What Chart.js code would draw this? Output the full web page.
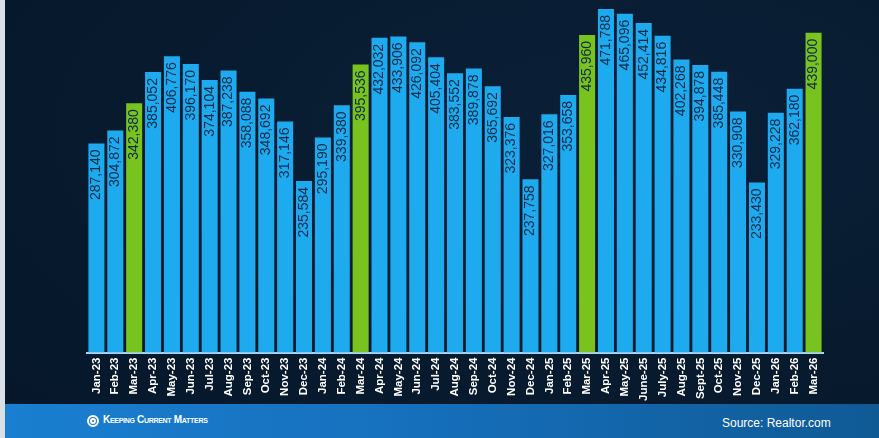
<!DOCTYPE html>
<html>
<head>
<meta charset="utf-8">
<script src="https://cdn.jsdelivr.net/npm/chart.js@4.4.1/dist/chart.umd.min.js"></script>
<style>
  html, body { margin: 0; padding: 0; }
  body {
    width: 879px; height: 438px; overflow: hidden; position: relative;
    background: radial-gradient(ellipse at 70% 30%, #0a2038 0%, #071a2e 60%, #06172a 100%);
    font-family: "Liberation Sans", Arial, sans-serif;
  }
  #edge { position: absolute; left: 0; top: 0; width: 5px; height: 438px; background: #d9e0e6; }
  #wrap { position: absolute; left: 0; top: 0; width: 879px; height: 411px; }
  #footer {
    position: absolute; left: 5px; top: 404px; width: 874px; height: 34px;
    background: linear-gradient(90deg, #1a7fd0 0%, #1670bd 45%, #0f5a95 100%);
    color: #fff;
  }
  #logo { position: absolute; left: 82px; top: 11px; width: 8px; height: 8px;
    border: 2px solid #fff; border-radius: 50%; }
  #logo::after { content: ''; position: absolute; left: 1px; top: 1px; width: 2px; height: 2px;
    border: 2px solid #fff; border-radius: 50%; }
  #brand { position: absolute; left: 98px; top: 10px; font-size: 10px; font-weight: bold;
    letter-spacing: -0.3px; font-variant: small-caps; }
  #source { position: absolute; left: 717px; top: 12px; font-size: 12px; }
</style>
</head>
<body>
<div id="edge"></div>
<div id="wrap"><canvas id="chart"></canvas></div>
<div id="footer">
  <div id="logo"></div>
  <div id="brand">Keeping Current Matters</div>
  <div id="source">Source: Realtor.com</div>
</div>
<script>
// Active listings by month
const months = ['Jan-23', 'Feb-23', 'Mar-23', 'Apr-23', 'May-23', 'Jun-23', 'Jul-23', 'Aug-23', 'Sep-23', 'Oct-23', 'Nov-23', 'Dec-23',
    'Jan-24', 'Feb-24', 'Mar-24', 'Apr-24', 'May-24', 'Jun-24', 'Jul-24', 'Aug-24', 'Sep-24', 'Oct-24', 'Nov-24', 'Dec-24',
    'Jan-25', 'Feb-25', 'Mar-25', 'Apr-25', 'May-25', 'June-25', 'July-25', 'Aug-25', 'Sept-25', 'Oct-25', 'Nov-25', 'Dec-25',
    'Jan-26', 'Feb-26', 'Mar-26'];
const listings = [287140, 304872, 342380, 385052, 406776, 396170, 374104, 387238, 358088, 348692, 317146, 235584,
    295190, 339380, 395536, 432032, 433906, 426092, 405404, 383552, 389878, 365692, 323376, 237758,
    327016, 353658, 435960, 471788, 465096, 452414, 434816, 402268, 394878, 385448, 330908, 233430,
    329228, 362180, 439000];
const highlighted = ['Mar-23', 'Mar-24', 'Mar-25', 'Mar-26'];

const blue = '#1eaaee';
const green = '#79c31f';

// value labels written inside the top of each bar
const barLabels = {
    id: 'barLabels',
    afterDatasetsDraw(chart) {
        const ctx = chart.ctx;
        const meta = chart.getDatasetMeta(0);
        ctx.save();
        ctx.font = '14px "Liberation Sans", Arial, sans-serif';
        ctx.fillStyle = '#0e2a48';
        ctx.textAlign = 'right';
        ctx.textBaseline = 'middle';
        meta.data.forEach((bar, i) => {
            ctx.save();
            ctx.translate(bar.x, bar.y + 6);
            ctx.rotate(-Math.PI / 2);
            ctx.fillText(listings[i].toLocaleString('en-US'), 0, 0);
            ctx.restore();
        });
        ctx.restore();
    }
};

new Chart(document.getElementById('chart').getContext('2d'), {
    type: 'bar',
    data: {
        labels: months,
        datasets: [{
            data: listings,
            backgroundColor: months.map(m => highlighted.includes(m) ? green : blue),
            categoryPercentage: 1,
            barPercentage: 0.85
        }]
    },
    options: {
        responsive: true,
        maintainAspectRatio: false,
        animation: false,
        layout: { padding: { left: 87, right: 56, top: 0, bottom: 5 } },
        plugins: { legend: { display: false }, tooltip: { enabled: false } },
        scales: {
            y: { display: false, min: 0, max: 484000 },
            x: {
                grid: { display: false, drawTicks: false },
                border: { display: true, color: '#a9d3ee', width: 2 },
                ticks: {
                    color: '#ffffff',
                    minRotation: 90,
                    maxRotation: 90,
                    padding: 5,
                    autoSkip: false,
                    font: { family: '"Liberation Sans", Arial, sans-serif', size: 11.5, weight: 'bold' }
                }
            }
        }
    },
    plugins: [barLabels]
});
</script>
</body>
</html>
